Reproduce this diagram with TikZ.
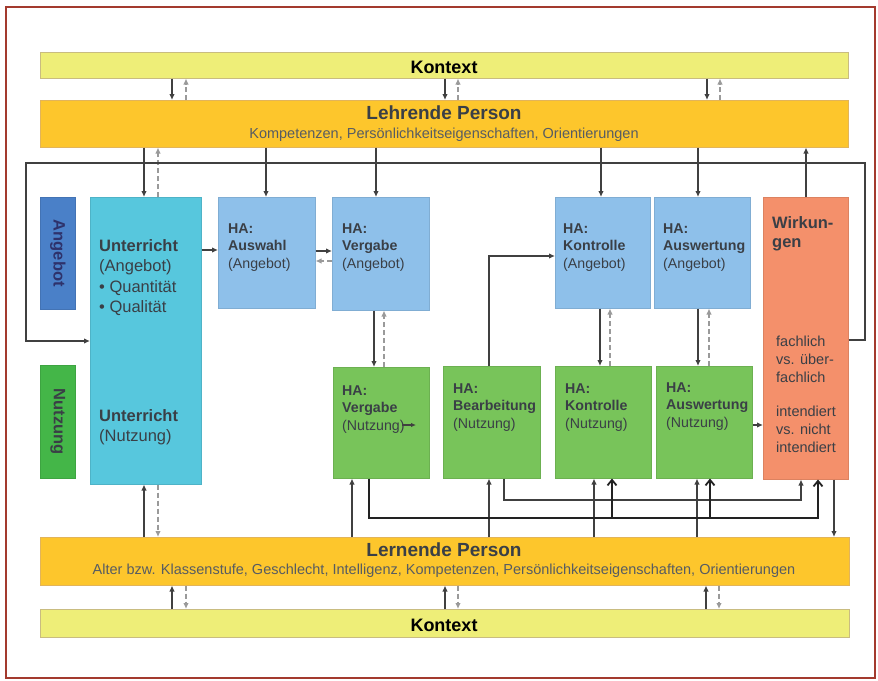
\documentclass[tikz,border=0pt]{standalone}
\usepackage{fontspec}
\setmainfont{Liberation Sans}
\usetikzlibrary{arrows.meta}
\definecolor{framec}{HTML}{A33A2E}
\definecolor{kontc}{HTML}{EEEE78}
\definecolor{kontd}{HTML}{C9BC80}
\definecolor{lehrc}{HTML}{FDC62C}
\definecolor{lehrd}{HTML}{E2B45A}
\definecolor{angc}{HTML}{4A80C8}
\definecolor{nutc}{HTML}{44B648}
\definecolor{untc}{HTML}{57C7DD}
\definecolor{haac}{HTML}{8EC0EA}
\definecolor{hanc}{HTML}{78C45A}
\definecolor{wirc}{HTML}{F4906B}
\definecolor{txtc}{HTML}{3A3F46}
\definecolor{linec}{HTML}{404040}
\definecolor{darkc}{HTML}{222222}
\definecolor{dashc}{HTML}{9A9A9A}
\newcommand\myfs[2]{\fontsize{#1}{#2}\selectfont}
\begin{document}
\begin{tikzpicture}[x=1pt,y=-1pt,
  box/.style={rectangle,inner sep=0pt,anchor=north west,line width=0.5pt},
  txt/.style={anchor=base west,align=left,inner sep=0pt,text=txtc},
  ctxt/.style={anchor=base,align=center,inner sep=0pt},
  ar/.style={draw=linec,line width=1.6pt,-{Latex[length=6pt,width=5.5pt]}},
  dar/.style={draw=dashc,line width=1.4pt,dash pattern=on 5pt off 3pt,-{Latex[length=6pt,width=5.5pt]}},
  bigar/.style={draw=darkc,line width=1.8pt,-{Straight Barb[length=5.5pt,width=9pt]}},
  haa/.style={box,fill=haac,draw=haac!90!black,minimum width=#1},
  han/.style={box,fill=hanc,draw=hanc!90!black,minimum width=#1}]
\useasboundingbox (0,0) rectangle (878,680);
\fill[white] (0,0) rectangle (878,680);
\draw[draw=framec,line width=2pt] (6,7) rectangle (875,678);

% bars
\node[box,fill=kontc,draw=kontd,minimum width=808pt,minimum height=26pt] (kt) at (40,52) {};
\node[box,fill=lehrc,draw=lehrd,minimum width=808pt,minimum height=47pt] (lp) at (40,100) {};
\node[box,fill=lehrc,draw=lehrd,minimum width=809pt,minimum height=48pt] (lrn) at (40,537) {};
\node[box,fill=kontc,draw=kontd,minimum width=809pt,minimum height=28pt] (kb) at (40,609) {};
\node[ctxt,font=\bfseries\myfs{18}{20}] (ktt) at (444,73) {Kontext};
\node[ctxt,font=\bfseries\myfs{18}{20}] (kbt) at (444,631) {Kontext};
\node[ctxt,text=txtc,font=\bfseries\myfs{19}{22}] (lpt) at (444,119) {Lehrende Person};
\node[ctxt,text=txtc!85!white,font=\myfs{14.5}{17}] (lps) at (444,138) {Kompetenzen, Persönlichkeitseigenschaften, Orientierungen};
\node[ctxt,text=txtc,font=\bfseries\myfs{19}{22}] (lrnt) at (444,556) {Lernende Person};
\node[ctxt,text=txtc!85!white,font=\myfs{14.5}{17}] (lrns) at (444,574) {Alter bzw. Klassenstufe, Geschlecht, Intelligenz, Kompetenzen, Persönlichkeitseigenschaften, Orientierungen};

% side labels
\node[box,fill=angc,draw=angc!90!black,minimum width=35pt,minimum height=112pt] (ang) at (40,197) {};
\node[box,fill=nutc,draw=nutc!90!black,minimum width=35pt,minimum height=113pt] (nut) at (40,365) {};
\node[rotate=-90,inner sep=0pt,text=txtc!80!blue,font=\bfseries\myfs{16.5}{19}] (angt) at (ang.center) {Angebot};
\node[rotate=-90,inner sep=0pt,text=txtc,font=\bfseries\myfs{16.5}{19}] (nutt) at (nut.center) {Nutzung};

% Unterricht (anchor = baseline of the last line)
\node[box,fill=untc,draw=untc!90!black,minimum width=111pt,minimum height=287pt] (unt) at (90,197) {};
\node[txt,font=\myfs{16.5}{20.5}] (untt1) at (99,312.5) {\textbf{Unterricht}\\(Angebot)\\•~Quantität\\•~Qualität};
\node[txt,font=\myfs{16.5}{20.5}] (untt2) at (99,441.5) {\textbf{Unterricht}\\(Nutzung)};

% HA boxes
\node[haa=97pt,minimum height=111pt] (ausw) at (218,197) {};
\node[haa=97pt,minimum height=113pt] (vga) at (332,197) {};
\node[haa=95pt,minimum height=111pt] (kta) at (555,197) {};
\node[haa=96pt,minimum height=111pt] (awa) at (654,197) {};
\node[han=96pt,minimum height=111pt] (vgn) at (333,367) {};
\node[han=97pt,minimum height=112pt] (bea) at (443,366) {};
\node[han=96pt,minimum height=112pt] (ktn) at (555,366) {};
\node[han=96pt,minimum height=112pt] (awn) at (656,366) {};
\node[txt,font=\myfs{14.2}{17.5}] (auswt) at (228,268) {\textbf{HA:}\\\textbf{Auswahl}\\(Angebot)};
\node[txt,font=\myfs{14.2}{17.5}] (vgat) at (342,268) {\textbf{HA:}\\\textbf{Vergabe}\\(Angebot)};
\node[txt,font=\myfs{14.2}{17.5}] (ktat) at (563,268) {\textbf{HA:}\\\textbf{Kontrolle}\\(Angebot)};
\node[txt,font=\myfs{14.2}{17.5}] (awat) at (663,268) {\textbf{HA:}\\\textbf{Auswertung}\\(Angebot)};
\node[txt,font=\myfs{14.2}{17.5}] (vgnt) at (342,430) {\textbf{HA:}\\\textbf{Vergabe}\\(Nutzung)};
\node[txt,font=\myfs{14.2}{17.5}] (beat) at (453,428) {\textbf{HA:}\\\textbf{Bearbeitung}\\(Nutzung)};
\node[txt,font=\myfs{14.2}{17.5}] (ktnt) at (565,428) {\textbf{HA:}\\\textbf{Kontrolle}\\(Nutzung)};
\node[txt,font=\myfs{14.2}{17.5}] (awnt) at (666,427) {\textbf{HA:}\\\textbf{Auswertung}\\(Nutzung)};

% Wirkungen
\node[box,fill=wirc,draw=wirc!90!black,minimum width=85pt,minimum height=282pt] (wirk) at (763,197) {};
\node[txt,font=\bfseries\myfs{16.5}{19.5}] (wirkt) at (772,247.5) {Wirkun-\\gen};
\node[txt,font=\myfs{14.5}{18}] (wirk1) at (776,382) {fachlich\\vs. über-\\fachlich};
\node[txt,font=\myfs{14.5}{18}] (wirk2) at (776,452) {intendiert\\vs. nicht\\intendiert};

% Kontext <-> Lehrende
\foreach \X in {172,445,707} {\draw[ar] (kt.south -| \X,0) -- (lp.north -| \X,0);}
\foreach \X in {186,458,720} {\draw[dar] (lp.north -| \X,0) -- (kt.south -| \X,0);}
% Lehrende -> boxes
\draw[ar] (lp.south -| 144,0) -- (unt.north -| 144,0);
\draw[dar] (unt.north -| 158,0) -- (lp.south -| 158,0);
\draw[ar] (lp.south -| 266,0) -- (ausw.north -| 266,0);
\draw[ar] (lp.south -| 376,0) -- (vga.north -| 376,0);
\draw[ar] (lp.south -| 601,0) -- (kta.north -| 601,0);
\draw[ar] (lp.south -| 698,0) -- (awa.north -| 698,0);
\draw[ar] (wirk.north -| 806,0) -- (lp.south -| 806,0);
% feedback loop
\draw[ar] (wirk.east |- 0,340) -| (865,163) -| (26,341) -- (unt.west |- 0,341);
% horizontal chain
\draw[ar] (unt.east |- 0,250) -- (ausw.west |- 0,250);
\draw[ar] (ausw.east |- 0,251) -- (vga.west |- 0,251);
\draw[dar] (vga.west |- 0,261) -- (ausw.east |- 0,261);
% Angebot -> Nutzung
\draw[ar] (vga.south -| 374,0) -- (vgn.north -| 374,0);
\draw[dar] (vgn.north -| 384,0) -- (vga.south -| 384,0);
\draw[ar] (kta.south -| 600,0) -- (ktn.north -| 600,0);
\draw[dar] (ktn.north -| 610,0) -- (kta.south -| 610,0);
\draw[ar] (awa.south -| 698,0) -- (awn.north -| 698,0);
\draw[dar] (awn.north -| 709,0) -- (awa.south -| 709,0);
% Bearbeitung -> Kontrolle (Angebot)
\draw[ar] (bea.north -| 489,0) |- (kta.west |- 0,256);
% Auswertung (Nutzung) -> Wirkungen
\draw[ar] (awn.east |- 0,425) -- (wirk.west |- 0,425);
% small arrow in Vergabe (Nutzung)
\coordinate (vgnA) at (402,425);
\coordinate (vgnB) at (416,425);
\draw[draw=linec,line width=1.2pt,-{Latex[length=5pt,width=4.5pt]}] (vgnA) -- (vgnB);

% Lernende -> boxes
\draw[ar] (lrn.north -| 144,0) -- (unt.south -| 144,0);
\draw[dar] (unt.south -| 158,0) -- (lrn.north -| 158,0);
\draw[ar] (lrn.north -| 352,0) -- (vgn.south -| 352,0);
\draw[ar] (lrn.north -| 489,0) -- (bea.south -| 489,0);
\draw[ar] (lrn.north -| 594,0) -- (ktn.south -| 594,0);
\draw[ar] (lrn.north -| 697,0) -- (awn.south -| 697,0);
% Bearbeitung -> Wirkungen
\draw[ar] (bea.south -| 504,0) -- (504,500) -- (801,500) -- (wirk.south -| 801,0);
% Vergabe (Nutzung) network
\coordinate (j1) at (612,518);
\coordinate (j2) at (710,518);
\draw[bigar] (vgn.south -| 369,0) -- (369,518) -- (818,518) -- (wirk.south -| 818,0);
\draw[bigar] (j1) -- (ktn.south -| 612,0);
\draw[bigar] (j2) -- (awn.south -| 710,0);
% Wirkungen -> Lernende
\draw[ar] (wirk.south -| 834,0) -- (lrn.north -| 834,0);
% Kontext <-> Lernende
\foreach \X in {172,445,706} {\draw[ar] (kb.north -| \X,0) -- (lrn.south -| \X,0);}
\foreach \X in {186,458,719} {\draw[dar] (lrn.south -| \X,0) -- (kb.north -| \X,0);}
\end{tikzpicture}
\end{document}
